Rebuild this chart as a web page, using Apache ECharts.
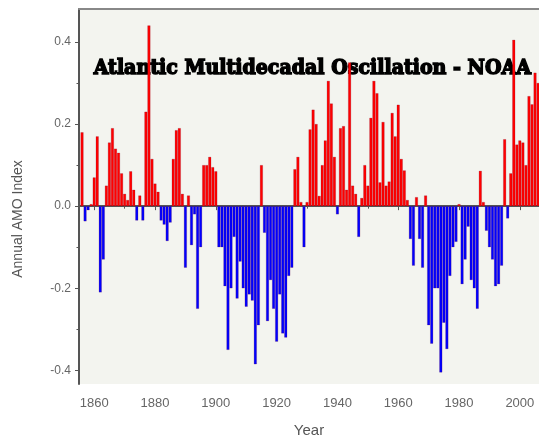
<!DOCTYPE html>
<html>
<head>
<meta charset="utf-8">
<script src="https://cdn.jsdelivr.net/npm/echarts@6/dist/echarts.min.js"></script>
<style>
  html, body { margin: 0; padding: 0; background: #fff; }
  #myCharts { width: 539px; height: 443px; }
</style>
</head>
<body>
<div id="myCharts"></div>
<script>
  // annual AMO index, one value per year starting 1856
  var startYear = 1856;
  var amoValues = [
    0.18, -0.037, -0.01, 0.005,
    0.07, 0.17, -0.21, -0.13, 0.05, 0.155, 0.19, 0.14, 0.13, 0.08,
    0.03, 0.015, 0.085, 0.04, -0.035, 0.026, -0.035, 0.23, 0.44, 0.115,
    0.055, 0.035, -0.035, -0.045, -0.085, -0.04, 0.115, 0.185, 0.19, 0.03,
    -0.15, 0.026, -0.095, -0.02, -0.25, -0.1, 0.1, 0.1, 0.12, 0.095,
    0.085, -0.1, -0.1, -0.195, -0.35, -0.2, -0.075, -0.225, -0.135, -0.2,
    -0.245, -0.215, -0.23, -0.385, -0.29, 0.1, -0.065, -0.28, -0.18, -0.25,
    -0.33, -0.215, -0.31, -0.32, -0.17, -0.15, 0.09, 0.12, 0.01, -0.1,
    0.01, 0.187, 0.235, 0.2, 0.025, 0.1, 0.16, 0.305, 0.25, 0.12,
    -0.02, 0.19, 0.195, 0.04, 0.35, 0.05, 0.03, -0.075, 0.02, 0.1,
    0.05, 0.215, 0.305, 0.275, 0.058, 0.205, 0.05, 0.06, 0.227, 0.17,
    0.247, 0.115, 0.087, 0.015, -0.08, -0.145, 0.022, -0.08, -0.15, 0.026,
    -0.29, -0.335, -0.2, -0.2, -0.405, -0.284, -0.348, -0.17, -0.1, -0.087,
    0.005, -0.19, -0.13, -0.05, -0.18, -0.2, -0.25, 0.086, 0.01, -0.06,
    -0.1, -0.13, -0.195, -0.19, -0.145, 0.163, -0.03, 0.08, 0.405, 0.15,
    0.16, 0.155, 0.1, 0.268, 0.248, 0.325, 0.3
  ];
  var yearLabels = [1860, 1880, 1900, 1920, 1940, 1960, 1980, 2000];
  var yearMinor = [1870, 1890, 1910, 1930, 1950, 1970, 1990];
  var indexLabels = [-0.4, -0.2, 0, 0.2, 0.4];
  var indexMinor = [-0.3, -0.1, 0.1, 0.3];

  var barData = amoValues.map(function (v, i) {
    return [startYear + i, v];
  });

  var xMin = 1855, xMax = 2006.3;
  var yMin = -0.433, yMax = 0.48;
  var labelColor = '#666';

  var mychart = echarts.init(document.getElementById('myCharts'), null, { renderer: 'canvas' });
  mychart.setOption({
    animation: false,
    backgroundColor: '#fff',
    grid: {
      left: 79, right: 0, top: 9, bottom: 56,
      show: true, backgroundColor: '#f3f4ef', borderWidth: 0
    },
    graphic: [{
      type: 'text',
      left: 93, top: 58,
      scaleX: 0.95,
      style: {
        text: 'Atlantic Multidecadal Oscillation - NOAA',
        font: 'bold 20px "DejaVu Serif"',
        fill: '#000',
        stroke: '#000',
        lineWidth: 1.5
      }
    }, {
      // y axis title, placed a bit below the plot middle like the original
      type: 'text',
      x: 18, y: 219,
      rotation: Math.PI / 2,
      style: {
        text: 'Annual AMO Index',
        font: '14px "Liberation Sans"',
        fill: '#555',
        align: 'center',
        verticalAlign: 'middle'
      }
    }],
    xAxis: [{
      type: 'value', min: xMin, max: xMax, position: 'bottom',
      name: 'Year', nameLocation: 'middle', nameGap: 39,
      nameTextStyle: { color: '#555', fontSize: 15, fontFamily: 'Liberation Sans' },
      axisLine: { lineStyle: { color: '#555', width: 2 } },
      axisTick: { show: true, inside: false, length: 4, customValues: yearLabels, lineStyle: { color: '#555' } },
      axisLabel: {
        customValues: yearLabels, color: labelColor, fontSize: 13, margin: 13,
        fontFamily: 'Liberation Sans',
        formatter: function (v) { return String(v); }
      },
      splitLine: { show: false }
    }, {
      type: 'value', min: xMin, max: xMax, position: 'bottom',
      axisLine: { show: false },
      axisTick: { show: true, length: 2.5, customValues: yearMinor, lineStyle: { color: '#555' } },
      axisLabel: { show: false },
      splitLine: { show: false }
    }, {
      type: 'value', min: xMin, max: xMax, position: 'top',
      axisLine: { lineStyle: { color: '#888', width: 2 } },
      axisTick: { show: false }, axisLabel: { show: false }, splitLine: { show: false }
    }],
    yAxis: [{
      type: 'value', min: yMin, max: yMax, position: 'left',
      axisLine: { show: true, lineStyle: { color: '#555', width: 2 } },
      axisTick: { show: true, length: 4, customValues: indexLabels, lineStyle: { color: '#555' } },
      axisLabel: {
        customValues: indexLabels, color: labelColor, fontSize: 12, margin: 8,
        fontFamily: 'Liberation Sans',
        formatter: function (v) { return v.toFixed(1); }
      },
      splitLine: { show: false }
    }, {
      type: 'value', min: yMin, max: yMax, position: 'left',
      axisLine: { show: false },
      axisTick: { show: true, length: 2.5, customValues: indexMinor, lineStyle: { color: '#555' } },
      axisLabel: { show: false },
      splitLine: { show: false }
    }],
    series: [{
      type: 'bar',
      xAxisIndex: 0, yAxisIndex: 0,
      barWidth: 3,
      data: barData,
      itemStyle: {
        color: function (p) { return p.value[1] >= 0 ? '#ff0000' : '#0000ff'; },
        borderColor: 'rgba(110,0,40,0.4)',
        borderWidth: 0.5
      }
    }]
  });
  window.onresize = mychart.resize;
</script>
</body>
</html>
